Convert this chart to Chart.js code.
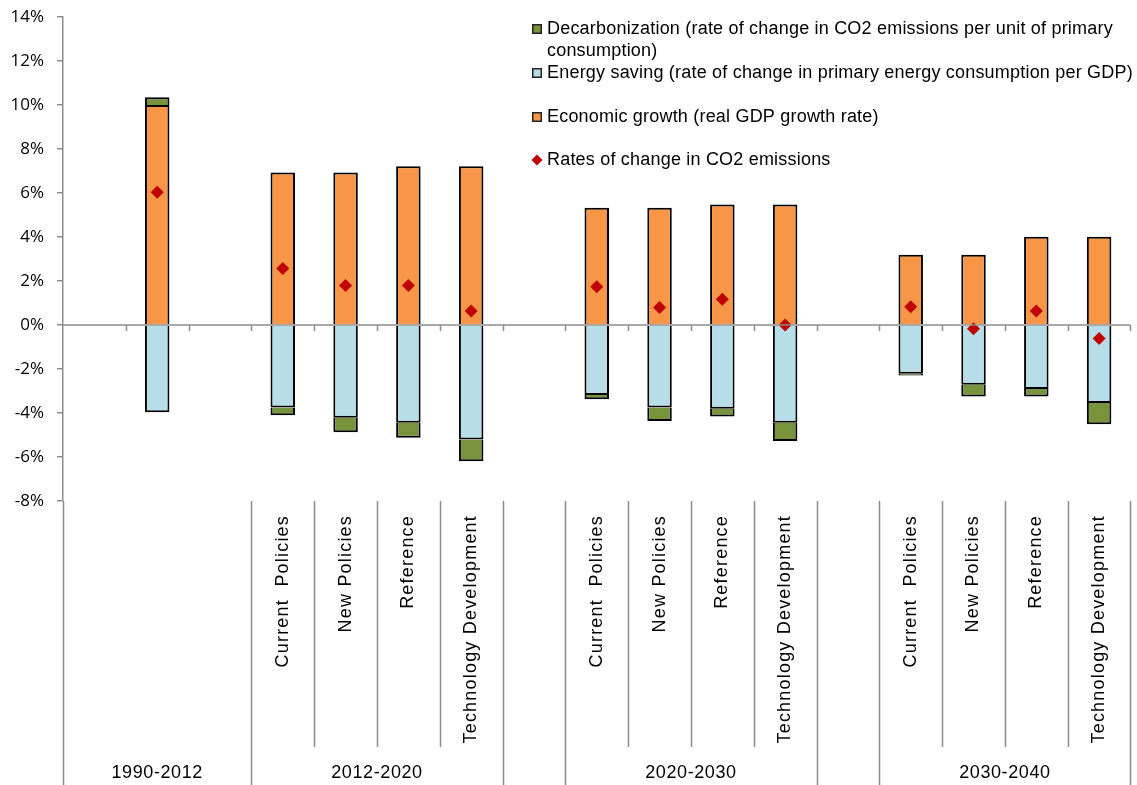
<!DOCTYPE html>
<html><head><meta charset="utf-8">
<script src="https://cdn.jsdelivr.net/npm/chart.js@4.4.1/dist/chart.umd.min.js"></script>
<style>html,body{margin:0;padding:0;background:#fff}#wrap{position:relative;width:1137px;height:785px}canvas{display:block}</style>
</head><body><div id="wrap"><canvas id="c" width="1137" height="785" style="width:1137px;height:785px"></canvas></div>
<script>
// ---- data ----
const categories = ["", "", "", "Current  Policies", "New Policies", "Reference", "Technology Development", "", "Current  Policies", "New Policies", "Reference", "Technology Development", "", "Current  Policies", "New Policies", "Reference", "Technology Development"];
const groupLabels = ["1990-2012", "2012-2020", "", "2020-2030", "", "2030-2040"];
const groupSpans = [3, 4, 1, 4, 1, 4];
const economicGrowth = [null, 10.0, null, 6.93, 6.93, 7.22, 7.22, null, 5.33, 5.33, 5.48, 5.48, null, 3.19, 3.19, 4.01, 4.01];
const energySaving = [null, -3.97, null, -3.75, -4.22, -4.44, -5.21, null, -3.18, -3.75, -3.81, -4.44, null, -2.22, -2.72, -2.91, -3.54];
const decarbonization = [null, 0.35, null, -0.35, -0.65, -0.69, -0.98, null, -0.2, -0.61, -0.35, -0.83, null, -0.07, -0.53, -0.34, -0.97];
const co2Change = [null, 6.03, null, 2.57, 1.79, 1.79, 0.64, null, 1.74, 0.79, 1.17, 0.0, null, 0.83, -0.17, 0.64, -0.61];
const yMin = -8, yMax = 14, yStep = 2;
const legendLabels = {
  decarb: ["Decarbonization (rate of change in CO2 emissions per unit of primary", "consumption)"],
  energy: ["Energy saving (rate of change in primary energy consumption per GDP)"],
  econ: ["Economic growth (real GDP growth rate)"],
  co2: ["Rates of change in CO2 emissions"]
};

const C_ECON = '#F79646', C_ENERGY = '#B7DEE8', C_DECARB = '#77933C', C_CO2 = '#C00000';
const AXIS_GRAY = '#8c8c8c';
const TEXT = '#000';

const labelPlugin = {
  id: 'customAxisAndLegend',
  afterDraw(chart) {
    const ctx = chart.ctx, xs = chart.scales.x, ys = chart.scales.y, ca = chart.chartArea;
    const slotW = xs.getPixelForValue(1) - xs.getPixelForValue(0);
    const edge = i => xs.getPixelForValue(i) - slotW / 2;
    const y0 = ys.getPixelForValue(0);
    ctx.save();
    ctx.strokeStyle = AXIS_GRAY; ctx.lineWidth = 1.5;
    ctx.beginPath(); ctx.moveTo(ca.left, y0); ctx.lineTo(ca.right, y0); ctx.stroke();
    for (let i = 1; i <= categories.length; i++) {
      const x = Math.round(edge(i)) + 0.5;
      ctx.beginPath(); ctx.moveTo(x, y0); ctx.lineTo(x, y0 + 6); ctx.stroke();
    }
    const bottom = chart.height;
    const subBottom = 747;
    let start = 0;
    const drawV = (x, y1, y2) => { ctx.beginPath(); ctx.moveTo(x, y1); ctx.lineTo(x, y2); ctx.stroke(); };
    drawV(Math.round(edge(0)) + 0.5, ca.bottom, bottom);
    groupSpans.forEach((span, g) => {
      const end = start + span;
      drawV(Math.round(edge(end)) + 0.5, ca.bottom, bottom);
      const hasSub = categories.slice(start, end).some(s => s);
      if (hasSub) for (let k = start + 1; k < end; k++) drawV(Math.round(edge(k)) + 0.5, ca.bottom, subBottom);
      if (groupLabels[g]) {
        ctx.fillStyle = TEXT;
        ctx.font = '18px "Liberation Sans", Arial, sans-serif';
        ctx.letterSpacing = '0.6px';
        ctx.textAlign = 'center'; ctx.textBaseline = 'middle';
        ctx.fillText(groupLabels[g], (edge(start) + edge(end)) / 2, 773);
      }
      start = end;
    });
    ctx.font = '18px "Liberation Sans", Arial, sans-serif';
    ctx.letterSpacing = '1.2px';
    ctx.fillStyle = TEXT;
    categories.forEach((lab, i) => {
      if (!lab) return;
      ctx.save();
      ctx.translate(xs.getPixelForValue(i), 515);
      ctx.rotate(-Math.PI / 2);
      ctx.textAlign = 'right'; ctx.textBaseline = 'middle';
      ctx.fillText(lab, 0, 0);
      ctx.restore();
    });
    ctx.letterSpacing = '0.2px';
    ctx.font = '18px "Liberation Sans", Arial, sans-serif';
    ctx.textAlign = 'left'; ctx.textBaseline = 'middle';
    const items = [
      { lines: legendLabels.decarb, color: C_DECARB, y: 29, shape: 'box' },
      { lines: legendLabels.energy, color: C_ENERGY, y: 73, shape: 'box' },
      { lines: legendLabels.econ, color: C_ECON, y: 117, shape: 'box' },
      { lines: legendLabels.co2, color: C_CO2, y: 160, shape: 'diamond' }
    ];
    const mx = 537;
    items.forEach(it => {
      ctx.fillStyle = it.color;
      if (it.shape === 'box') {
        ctx.fillRect(mx - 5, it.y - 5, 10, 10);
        ctx.strokeStyle = '#222'; ctx.lineWidth = 1.5;
        ctx.strokeRect(mx - 4.25, it.y - 4.25, 8.5, 8.5);
      } else {
        ctx.beginPath(); ctx.moveTo(mx, it.y - 5.5); ctx.lineTo(mx + 5.5, it.y); ctx.lineTo(mx, it.y + 5.5); ctx.lineTo(mx - 5.5, it.y); ctx.closePath(); ctx.fill();
      }
      ctx.fillStyle = TEXT;
      it.lines.forEach((t, k) => ctx.fillText(t, 547, it.y + k * 22));
    });
    ctx.restore();
  }
};

const barBase = { borderColor: '#000', borderWidth: 2, borderSkipped: 'start', stack: 'bars', order: 1 };

new Chart(document.getElementById('c'), {
  type: 'bar',
  data: {
    labels: categories,
    datasets: [
      Object.assign({ label: legendLabels.econ.join(' '), data: economicGrowth, backgroundColor: C_ECON }, barBase),
      Object.assign({ label: legendLabels.energy.join(' '), data: energySaving, backgroundColor: C_ENERGY }, barBase),
      Object.assign({ label: legendLabels.decarb.join(' '), data: decarbonization, backgroundColor: C_DECARB }, barBase),
      { type: 'line', label: legendLabels.co2.join(' '), data: co2Change, showLine: false, pointStyle: 'rectRot', pointRadius: 6.5, pointHoverRadius: 6.5, pointBackgroundColor: C_CO2, pointBorderColor: C_CO2, pointBorderWidth: 0, stack: 'points', order: 0 }
    ]
  },
  options: {
    responsive: false,
    animation: false,
    devicePixelRatio: 1,
    layout: { padding: { left: 0, top: 17, right: 6, bottom: 284 } },
    datasets: { bar: { barPercentage: 0.39, categoryPercentage: 1 } },
    plugins: { legend: { display: false }, tooltip: { enabled: false } },
    scales: {
      x: { display: false, stacked: true, offset: true },
      y: {
        stacked: true, min: yMin, max: yMax,
        ticks: { stepSize: yStep, callback: v => v + '%', color: TEXT, padding: 13, font: { family: '"Open Sans", sans-serif', size: 17 } },
        grid: { color: 'rgba(0,0,0,0)', tickColor: AXIS_GRAY, tickLength: 6, lineWidth: 1.5 },
        border: { color: AXIS_GRAY, width: 1.5 },
        afterFit: s => { s.width = 63; s.paddingTop = 0; s.paddingBottom = 0; }
      }
    }
  },
  plugins: [labelPlugin]
});
</script>
</body></html>
